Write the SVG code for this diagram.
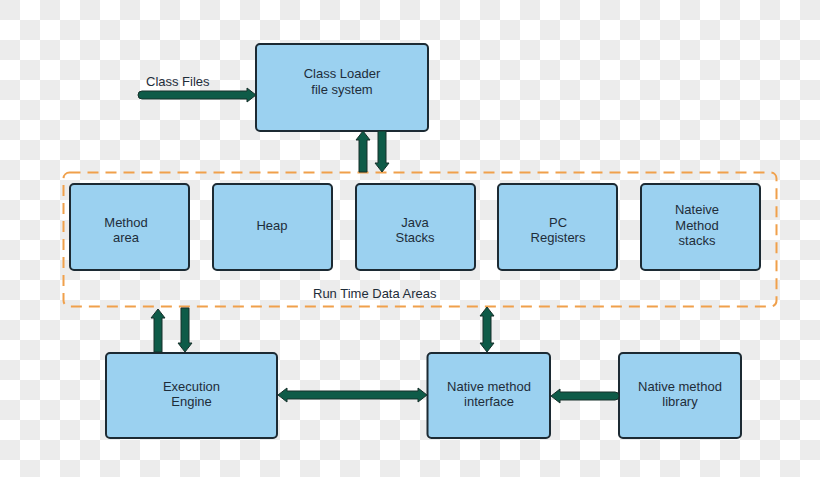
<svg xmlns="http://www.w3.org/2000/svg" width="820" height="477" viewBox="0 0 820 477">
<defs>
<pattern id="checker" x="0" y="0" width="40" height="40" patternUnits="userSpaceOnUse">
<rect width="40" height="40" fill="#ffffff"/>
<rect x="0" y="0" width="20" height="20" fill="#ececec"/>
<rect x="20" y="20" width="20" height="20" fill="#ececec"/>
</pattern>
</defs>
<style>
.box{fill:#9bd1f0;stroke:#1c2a33;stroke-width:2}
.lbl{font-family:"Liberation Sans",Arial,sans-serif;font-size:13px;fill:#1e2d3a;text-anchor:middle}
.plain{font-family:"Liberation Sans",Arial,sans-serif;font-size:13px;fill:#1e2d3a}
.arrow{fill:#0e5b48;stroke:#16302a;stroke-width:1;stroke-linejoin:round}
.area{fill:none;stroke:#f0a04b;stroke-width:2;stroke-dasharray:11 7}
</style>
<rect width="820" height="477" fill="url(#checker)"/>

<g id="runtime-data-areas">
<rect class="area" x="63.5" y="172.5" width="713" height="134" rx="6"/>
<text class="plain" x="313" y="298">Run Time Data Areas</text>
</g>

<g id="class-loader">
<rect class="box" x="256" y="44" width="172" height="87" rx="4"/>
<text class="lbl" x="342" y="78">Class Loader</text>
<text class="lbl" x="342" y="94">file system</text>
</g>

<g id="class-files">
<text class="plain" x="146" y="86">Class Files</text>
</g>

<g id="method-area">
<rect class="box" x="70" y="184" width="119" height="86" rx="4"/>
<text class="lbl" x="126" y="227">Method</text>
<text class="lbl" x="126" y="242">area</text>
</g>

<g id="heap">
<rect class="box" x="213" y="184" width="119" height="86" rx="4"/>
<text class="lbl" x="272" y="230">Heap</text>
</g>

<g id="java-stacks">
<rect class="box" x="356" y="184" width="119" height="86" rx="4"/>
<text class="lbl" x="415" y="227">Java</text>
<text class="lbl" x="415" y="242">Stacks</text>
</g>

<g id="pc-registers">
<rect class="box" x="498" y="184" width="119" height="86" rx="4"/>
<text class="lbl" x="558" y="227">PC</text>
<text class="lbl" x="558" y="242">Registers</text>
</g>

<g id="native-method-stacks">
<rect class="box" x="641" y="184" width="119" height="86" rx="4"/>
<text class="lbl" x="697" y="214">Nateive</text>
<text class="lbl" x="697" y="230">Method</text>
<text class="lbl" x="697" y="245">stacks</text>
</g>

<g id="execution-engine">
<rect class="box" x="106" y="353" width="171" height="85" rx="4"/>
<text class="lbl" x="191.5" y="391">Execution</text>
<text class="lbl" x="191.5" y="406">Engine</text>
</g>

<g id="native-method-interface">
<rect class="box" x="427.5" y="353" width="122.5" height="85" rx="4"/>
<text class="lbl" x="489" y="391">Native method</text>
<text class="lbl" x="489" y="406">interface</text>
</g>

<g id="native-method-library">
<rect class="box" x="619" y="353" width="122" height="85" rx="4"/>
<text class="lbl" x="680" y="391">Native method</text>
<text class="lbl" x="680" y="406">library</text>
</g>

<g id="connectors">
<!-- Class Files -> Class Loader -->
<path class="arrow" d="M142,91 L247,91 L247,88 L256,95 L247,102 L247,99 L142,99 A4,4 0 0 1 142,91 Z"/>
<!-- Run time -> Class Loader (up) -->
<path class="arrow" d="M359,172 L359,140 L356,140 L363,131 L370,140 L367,140 L367,172 Z"/>
<!-- Class Loader -> Run time (down) -->
<path class="arrow" d="M378,131 L378,163 L375,163 L382,172 L389,163 L386,163 L386,131 Z"/>
<!-- Execution Engine -> Run time (up) -->
<path class="arrow" d="M154,352 L154,318 L151,318 L158,309 L165,318 L162,318 L162,352 Z"/>
<!-- Run time -> Execution Engine (down) -->
<path class="arrow" d="M181,308 L181,343 L178,343 L185,352 L192,343 L189,343 L189,308 Z"/>
<!-- Execution Engine <-> Native method interface -->
<path class="arrow" d="M278,395 L287,388 L287,391 L418,391 L418,388 L427,395 L418,402 L418,399 L287,399 L287,402 Z"/>
<!-- Run time <-> Native method interface -->
<path class="arrow" d="M487,307 L494,316 L491,316 L491,343 L494,343 L487,352 L480,343 L483,343 L483,316 L480,316 Z"/>
<!-- Native method library -> Native method interface -->
<path class="arrow" d="M615,400 L560,400 L560,403 L551,396 L560,389 L560,392 L615,392 A4,4 0 0 1 615,400 Z"/>
</g>
</svg>
